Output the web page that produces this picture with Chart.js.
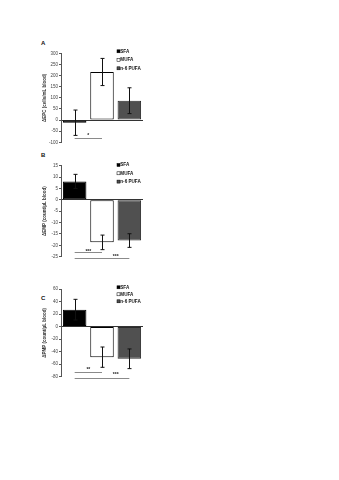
<!DOCTYPE html>
<html>
<head>
<meta charset="utf-8">
<script src="https://cdn.jsdelivr.net/npm/chart.js@4"></script>
<style>
  body { margin: 0; width: 339px; height: 480px; background: #fff; position: relative; overflow: hidden; }
  canvas { position: absolute; left: 0; }
  .lbl { position: absolute; font: bold 6px "Liberation Sans", Arial, sans-serif; color: #111; }
</style>
</head>
<body>
<div class="lbl" style="left:41px;top:40px">A</div>
<div class="lbl" style="left:41px;top:152px">B</div>
<div class="lbl" style="left:41px;top:295px">C</div>
<canvas id="chartA" width="200" height="115" style="top:40px"></canvas>
<canvas id="chartB" width="200" height="115" style="top:150px"></canvas>
<canvas id="chartC" width="200" height="115" style="top:275px"></canvas>
<script>
const groups = ['SFA', 'MUFA', 'n-6 PUFA'];
const barColors = ['#000000', '#ffffff', '#505050'];
const barBorders = ['#000000', '#000000', '#2a2a2a'];

// A: ΔEPC
const epcValues = [-12, 216, 87];
const epcErrors = [57, 61, 58];
// B: ΔEMP
const empValues = [8.1, -18.7, -17.9];
const empErrors = [3.1, 3.2, 3.0];
// C: ΔPMP
const pmpValues = [27, -48.8, -51.4];
const pmpErrors = [16.5, 16.2, 15.7];

// significance bars: [from, to, line value, star text, star between a, star between b, star value]
const sigA = [[0, 1, -82, '*', 0, 1, -62]];
const sigB = [[0, 1, -23.1, '***', 0, 1, -22], [0, 2, -25.7, '***', 1, 2, -24.1]];
const sigC = [[0, 1, -72.8, '**', 0, 1, -66.5], [0, 2, -82.4, '***', 1, 2, -74.4]];

const FONT = '"Liberation Sans", Arial, sans-serif';

const extrasPlugin = {
    id: 'extras',
    afterDatasetsDraw(chart, args, opts) {
        const ctx = chart.ctx;
        const x = chart.scales.x;
        const y = chart.scales.y;
        const area = chart.chartArea;
        ctx.save();

        // error bars
        ctx.strokeStyle = '#111';
        ctx.lineWidth = 1;
        opts.values.forEach((v, i) => {
            const cx = Math.round(x.getPixelForValue(i)) + 0.5;
            const top = y.getPixelForValue(v + opts.errors[i]);
            const bot = y.getPixelForValue(v - opts.errors[i]);
            ctx.beginPath();
            ctx.moveTo(cx, top); ctx.lineTo(cx, bot);
            ctx.moveTo(cx - 2, top); ctx.lineTo(cx + 2, top);
            ctx.moveTo(cx - 2, bot); ctx.lineTo(cx + 2, bot);
            ctx.stroke();
        });

        // significance lines
        ctx.strokeStyle = '#8a8a8a';
        ctx.fillStyle = '#222';
        ctx.font = 'bold 5px ' + FONT;
        ctx.textAlign = 'center';
        ctx.textBaseline = 'middle';
        opts.sig.forEach(s => {
            const ly = Math.round(y.getPixelForValue(s[2])) + 0.5;
            ctx.beginPath();
            ctx.moveTo(x.getPixelForValue(s[0]), ly);
            ctx.lineTo(x.getPixelForValue(s[1]), ly);
            ctx.stroke();
            const sx = (x.getPixelForValue(s[4]) + x.getPixelForValue(s[5])) / 2;
            ctx.fillText(s[3], sx, y.getPixelForValue(s[6]) + 1.5);
        });

        // legend
        ctx.font = 'bold 4.6px ' + FONT;
        ctx.textAlign = 'left';
        const lx = area.left + 56;
        groups.forEach((g, i) => {
            const ry = area.top + opts.legendTop + i * opts.legendGap;
            ctx.fillStyle = barColors[i];
            ctx.fillRect(lx, ry - 1.5, 3, 3);
            ctx.strokeStyle = '#000';
            ctx.lineWidth = 0.5;
            ctx.strokeRect(lx, ry - 1.5, 3, 3);
            ctx.fillStyle = '#111';
            ctx.fillText(g, lx + 3.3, ry);
        });
        ctx.restore();
    }
};

function makeChart(id, values, errors, min, max, step, title, sig, pad, legendTop, legendGap) {
    return new Chart(document.getElementById(id), {
        type: 'bar',
        data: {
            labels: groups,
            datasets: [{
                data: values,
                backgroundColor: barColors,
                borderColor: barBorders,
                borderWidth: 1,
                borderSkipped: false,
                barPercentage: 0.86,
                categoryPercentage: 1
            }]
        },
        options: {
            responsive: false,
            animation: false,
            events: [],
            layout: { padding: { left: 40, right: 57, top: pad[0], bottom: pad[1] } },
            plugins: {
                legend: { display: false },
                tooltip: { enabled: false },
                extras: { values, errors, sig, legendTop, legendGap }
            },
            scales: {
                x: { display: false },
                y: {
                    min: min,
                    max: max,
                    afterFit: s => { s.width = 21; },
                    border: { display: true, color: '#555', width: 1 },
                    grid: {
                        color: c => (c.tick && c.tick.value === 0) ? '#333' : 'transparent',
                        tickColor: '#555',
                        tickLength: 2,
                        drawOnChartArea: true
                    },
                    ticks: {
                        stepSize: step,
                        color: '#444',
                        padding: 1,
                        font: { family: FONT, size: 4.5 }
                    },
                    title: {
                        display: true,
                        text: title,
                        color: '#333',
                        padding: { top: 2, bottom: 0 },
                        font: { family: FONT, size: 4.5, weight: 'bold' }
                    }
                }
            }
        },
        plugins: [extrasPlugin]
    });
}

makeChart('chartA', epcValues, epcErrors, -100, 300, 50, 'ΔEPC (cells/mL blood)', sigA, [13.3, 12.7], -2, 8.5);
makeChart('chartB', empValues, empErrors, -25, 15, 5, 'ΔEMP (count/μL blood)', sigB, [15.7, 8.3], -0.7, 8.3);
makeChart('chartC', pmpValues, pmpErrors, -80, 60, 20, 'ΔPMP (count/μL blood)', sigC, [14, 13.3], -1.7, 7);
</script>
</body>
</html>
